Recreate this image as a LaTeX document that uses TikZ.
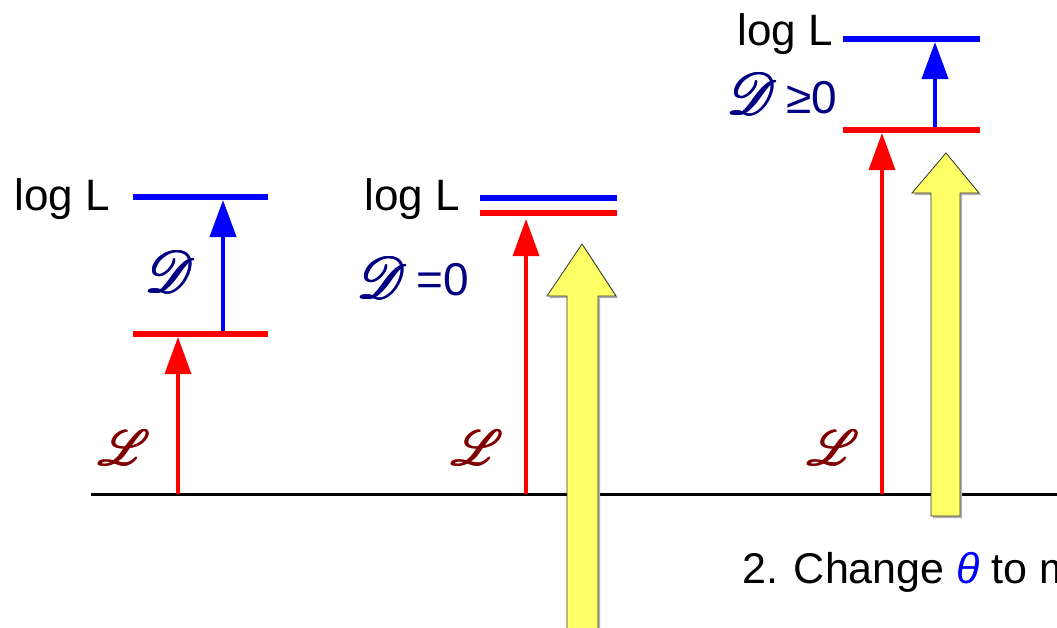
\documentclass[tikz,border=0pt]{standalone}
\usepackage{fontspec}
\setmainfont{Liberation Sans}
\usepackage{mathrsfs}
\usetikzlibrary{arrows.meta}
\definecolor{navyD}{RGB}{0,0,128}
\definecolor{darkredL}{RGB}{128,0,0}
\definecolor{bigyellow}{RGB}{255,255,102}
\newcommand{\fkbold}[1]{\rlap{#1}\raisebox{0.12pt}{\rlap{#1}}\hspace{0.18pt}\rlap{#1}\raisebox{0.12pt}{#1}}
\tikzset{
  level/.style={line width=6pt},
  redlevel/.style={level, red},
  bluelevel/.style={level, blue},
  uparrow/.style={-{Triangle[length=37pt,width=26pt]}},
  redarrow/.style={uparrow, red, line width=3.5pt},
  bluearrow/.style={uparrow, blue, line width=4pt},
  axis/.style={line width=3pt, black},
  fatarrow/.style={fill=bigyellow, draw=black!80, line width=0.8pt},
  fatshadow/.style={fill=black!30},
  loglabel/.style={font=\fontsize{44}{52}\selectfont, anchor=base east, inner sep=0pt},
  scriptD/.style={text=navyD, scale=5.8, inner sep=0pt},
  scriptL/.style={text=darkredL, scale=4.9, inner sep=0pt},
  dtext/.style={text=navyD, font=\fontsize{46}{54}\selectfont, anchor=base west, inner sep=0pt},
  caption/.style={font=\fontsize{43}{50}\selectfont, anchor=base west, inner sep=0pt}
}
\begin{document}
\begin{tikzpicture}[x=1pt,y=-1pt]
\useasboundingbox (0,0) rectangle (1057,627);
\clip (0,0) rectangle (1057,627);

% axis
\coordinate (axL) at (91,494);
\coordinate (axR) at (1060,494);
\draw[axis] (axL) -- (axR);

% ---------- panel 1 ----------
\coordinate (b1l) at (133,197); \coordinate (b1r) at (268,197);
\coordinate (r1l) at (133,334); \coordinate (r1r) at (268,334);
\draw[bluelevel] (b1l) -- (b1r);
\draw[redlevel] (r1l) -- (r1r);
\coordinate (ra1s) at (178,494); \coordinate (ra1e) at (178,337);
\draw[redarrow] (ra1s) -- (ra1e);
\coordinate (ba1s) at (223,331); \coordinate (ba1e) at (223,200);
\draw[bluearrow] (ba1s) -- (ba1e);
\node[loglabel] (log1) at (110,210) {log L};
\node[scriptD] (D1) at (170,272) {\fkbold{$\mathscr{D}$}};
\node[scriptL] (L1) at (124,448) {\fkbold{$\mathscr{L}$}};

% ---------- panel 2 ----------
\coordinate (b2l) at (480,198); \coordinate (b2r) at (617,198);
\coordinate (r2l) at (480,213); \coordinate (r2r) at (617,213);
\draw[bluelevel] (b2l) -- (b2r);
\draw[redlevel] (r2l) -- (r2r);
\coordinate (ra2s) at (526,494); \coordinate (ra2e) at (526,219);
\draw[redarrow] (ra2s) -- (ra2e);
\node[loglabel] (log2) at (460,210) {log L};
\node[scriptD] (D2) at (382,278) {\fkbold{$\mathscr{D}$}};
\node[dtext] (eq2) at (416,295) {=0};
\node[scriptL] (L2) at (477,448) {\fkbold{$\mathscr{L}$}};

% big yellow arrow 1
\fill[fatshadow] (584,246) -- (618,298) -- (600,298) -- (600,640) -- (569,640) -- (569,298) -- (549,298) -- cycle;
\draw[fatarrow] (582,244) -- (616,296) -- (598,296) -- (598,640) -- (567,640) -- (567,296) -- (547,296) -- cycle;

% ---------- panel 3 ----------
\coordinate (b3l) at (843,39); \coordinate (b3r) at (980,39);
\coordinate (r3l) at (843,130); \coordinate (r3r) at (980,130);
\draw[bluelevel] (b3l) -- (b3r);
\draw[redlevel] (r3l) -- (r3r);
\coordinate (ra3s) at (882,494); \coordinate (ra3e) at (882,133);
\draw[redarrow] (ra3s) -- (ra3e);
\coordinate (ba3s) at (935,127); \coordinate (ba3e) at (935,42);
\draw[bluearrow] (ba3s) -- (ba3e);
\node[loglabel] (log3) at (833,45) {log L};
\node[scriptD] (D3) at (752,94) {\fkbold{$\mathscr{D}$}};
\node[dtext] (eq3) at (786,113) {≥0};
\node[scriptL] (L3) at (833,448) {\fkbold{$\mathscr{L}$}};

% big yellow arrow 2
\fill[fatshadow] (948,155) -- (981,195) -- (962,195) -- (962,518) -- (933,518) -- (933,195) -- (914,195) -- cycle;
\draw[fatarrow] (946,153) -- (979,193) -- (960,193) -- (960,516) -- (931,516) -- (931,193) -- (912,193) -- cycle;

% caption (cut by the picture's right edge, as in the reference)
\node[caption] (cap) at (742,583) {2. Change {\color{blue}\itshape θ} to m};
\end{tikzpicture}
\end{document}
